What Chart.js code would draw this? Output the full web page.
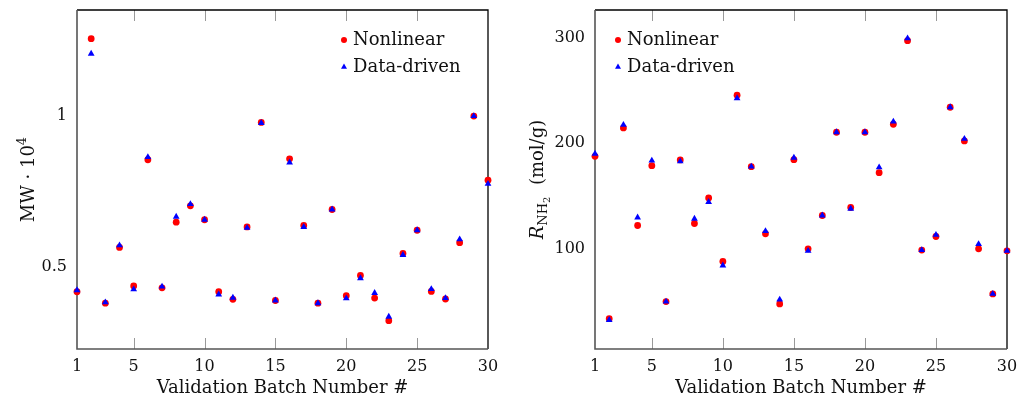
<!DOCTYPE html>
<html>
<head>
<meta charset="utf-8">
<script src="https://cdn.jsdelivr.net/npm/chart.js@4.4.1/dist/chart.umd.min.js"></script>
<style>
  html, body { margin: 0; padding: 0; background: #fff; }
  #wrap { position: relative; width: 1018px; height: 398px; }
  canvas { position: absolute; top: 0; }
</style>
</head>
<body>
<div id="wrap">
  <canvas id="mw" width="509" height="398" style="left:0"></canvas>
  <canvas id="rnh" width="509" height="398" style="left:509px"></canvas>
</div>
<script>
// validation batches 1..30
const batches = [1,2,3,4,5,6,7,8,9,10,11,12,13,14,15,16,17,18,19,20,21,22,23,24,25,26,27,28,29,30]
const xTicks = [1, 5, 10, 15, 20, 25, 30]

// MW * 10^4 (left panel)
const mwNonlinear = [0.417,1.257,0.379,0.564,0.436,0.855,0.430,0.648,0.702,0.656,0.417,0.392,0.632,0.979,0.388,
                     0.858,0.637,0.379,0.690,0.404,0.471,0.396,0.321,0.544,0.621,0.418,0.393,0.580,1.000,0.787]
const mwDataDriven = [0.422,1.207,0.382,0.571,0.425,0.864,0.434,0.666,0.708,0.656,0.408,0.397,0.629,0.977,0.388,
                      0.846,0.632,0.379,0.690,0.395,0.462,0.413,0.334,0.539,0.621,0.426,0.396,0.591,1.000,0.775]
const mwTicks = [0.5, 1]

// R_NH2 in mol/g (right panel)
const rNonlinear = [187.3,33.4,214.2,121.7,178.4,49.6,183.9,123.6,147.8,87.6,245.2,177.5,113.9,47.4,184.1,
                    99.6,131.2,210.1,138.8,210.1,171.8,217.7,296.9,98.4,111.3,233.8,201.9,99.6,56.9,97.7]
const rDataDriven = [189.8,32.2,217.1,129.3,183.2,49.6,182.5,128.1,144.0,83.8,242.4,177.5,116.4,51.5,186.0,
                     97.7,131.2,210.1,137.6,210.1,176.8,220.2,299.1,98.4,112.9,233.8,203.8,104.1,56.9,97.7]
const rTicks = [100, 200, 300]

const seriesNames = ['Nonlinear', 'Data-driven']
const xTitle = 'Validation Batch Number #'

const FONT = '"DejaVu Serif", serif'
const RED = '#ff0000'
const BLUE = '#0000ff'

const toPoints = (ys) => batches.map((b, i) => ({x: b, y: ys[i]}))

// pieces of text drawn in a row, some raised or lowered (for 10^4 and NH2)
function drawRich(ctx, parts, cx, cy, rotate) {
    ctx.save()
    ctx.translate(cx, cy)
    if (rotate) ctx.rotate(-Math.PI / 2)
    ctx.textBaseline = 'alphabetic'
    ctx.textAlign = 'left'
    let total = 0
    for (const p of parts) {
        ctx.font = (p.italic ? 'italic ' : '') + p.size + 'px ' + FONT
        p.w = ctx.measureText(p.t).width
        total += p.w
    }
    let x = -total / 2
    for (const p of parts) {
        ctx.font = (p.italic ? 'italic ' : '') + p.size + 'px ' + FONT
        ctx.fillText(p.t, x, p.dy || 0)
        x += p.w
    }
    ctx.restore()
}

const framePlugin = {
    id: 'frame',
    beforeDatasetsDraw(chart, args, opts) {
        const { ctx, chartArea: a, scales: { x } } = chart
        ctx.save()
        // x ticks, inward, bottom and top
        ctx.strokeStyle = '#999'
        ctx.lineWidth = 1
        for (const t of xTicks) {
            const px = Math.round(x.getPixelForValue(t)) + 0.5
            if (px <= a.left + 2 || px >= a.right - 2) continue
            ctx.beginPath()
            ctx.moveTo(px, a.bottom); ctx.lineTo(px, a.bottom - 11)
            ctx.moveTo(px, a.top); ctx.lineTo(px, a.top + 11)
            ctx.stroke()
        }
        // box
        ctx.strokeStyle = '#000'
        ctx.lineWidth = 1.3
        ctx.beginPath()
        ctx.moveTo(a.left, a.top); ctx.lineTo(a.right, a.top); ctx.lineTo(a.right, a.bottom)
        ctx.stroke()
        ctx.strokeStyle = '#555'
        ctx.lineWidth = 1.6
        ctx.beginPath()
        ctx.moveTo(a.left, a.top); ctx.lineTo(a.left, a.bottom); ctx.lineTo(a.right, a.bottom)
        ctx.stroke()

        // axis titles
        ctx.fillStyle = '#111'
        drawRich(ctx, [{t: xTitle, size: 18}], (a.left + a.right) / 2, 393, false)
        drawRich(ctx, opts.yTitle, 34, (a.top + a.bottom) / 2, true)
        ctx.restore()
    },
    afterDatasetsDraw(chart, args, opts) {
        // legend inside the plot
        const { ctx } = chart
        const lx = opts.legendX, ly = opts.legendY
        ctx.save()
        ctx.fillStyle = RED
        ctx.beginPath(); ctx.arc(lx, ly, 3, 0, Math.PI * 2); ctx.fill()
        ctx.fillStyle = BLUE
        ctx.beginPath()
        ctx.moveTo(lx, ly + 27 - 3.4)
        ctx.lineTo(lx + 3, ly + 27 + 1.8)
        ctx.lineTo(lx - 3, ly + 27 + 1.8)
        ctx.closePath(); ctx.fill()
        ctx.fillStyle = '#111'
        ctx.font = '18px ' + FONT
        ctx.textBaseline = 'middle'
        ctx.textAlign = 'left'
        ctx.fillText(seriesNames[0], lx + 9, ly)
        ctx.fillText(seriesNames[1], lx + 9, ly + 27)
        ctx.restore()
    }
}

function makeChart(id, nonlin, datadriven, yMin, yMax, yTicks, yFmt, yWidth, padRight, yTitle, legendX) {
    return new Chart(document.getElementById(id), {
        type: 'scatter',
        data: {
            datasets: [
                {
                    label: seriesNames[0],
                    data: toPoints(nonlin),
                    pointStyle: 'circle',
                    pointRadius: 3.4,
                    backgroundColor: RED,
                    borderWidth: 0,
                    order: 1,
                    clip: false
                },
                {
                    label: seriesNames[1],
                    data: toPoints(datadriven),
                    pointStyle: 'triangle',
                    pointRadius: 3.9,
                    backgroundColor: BLUE,
                    borderWidth: 0,
                    order: 0,
                    clip: false
                }
            ]
        },
        options: {
            responsive: false,
            animation: false,
            devicePixelRatio: 1,
            layout: { autoPadding: false, padding: { left: 0, right: padRight, top: 10, bottom: 0 } },
            plugins: {
                legend: { display: false },
                tooltip: { enabled: false },
                frame: { yTitle: yTitle, legendX: legendX, legendY: 40 }
            },
            scales: {
                x: {
                    type: 'linear',
                    min: 1,
                    max: 30,
                    afterBuildTicks: (s) => { s.ticks = xTicks.map(v => ({ value: v })) },
                    afterFit: (s) => { s.height = 49; s.paddingLeft = 0; s.paddingRight = 0 },
                    grid: { display: false, drawTicks: false },
                    border: { display: false },
                    ticks: { color: '#111', font: { family: FONT, size: 16 }, padding: 8, maxRotation: 0 }
                },
                y: {
                    type: 'linear',
                    min: yMin,
                    max: yMax,
                    afterBuildTicks: (s) => { s.ticks = yTicks.map(v => ({ value: v })) },
                    afterFit: (s) => { s.width = yWidth; s.paddingTop = 0; s.paddingBottom = 0 },
                    grid: { display: false, drawTicks: false },
                    border: { display: false },
                    ticks: { color: '#111', font: { family: FONT, size: 16 }, padding: 10, callback: yFmt }
                }
            }
        },
        plugins: [framePlugin]
    })
}

makeChart('mw', mwNonlinear, mwDataDriven, 0.227, 1.352, mwTicks,
    (v) => String(v), 77, 21,
    [{t: 'MW · 10', size: 18}, {t: '4', size: 13, dy: -8}], 344)

makeChart('rnh', rNonlinear, rDataDriven, 4.65, 326, rTicks,
    (v) => String(v), 86, 11,
    [{t: 'R', size: 18, italic: true}, {t: 'NH', size: 13, dy: 4}, {t: '2', size: 10, dy: 7},
     {t: '  (mol/g)', size: 18}], 109)
</script>
</body>
</html>
